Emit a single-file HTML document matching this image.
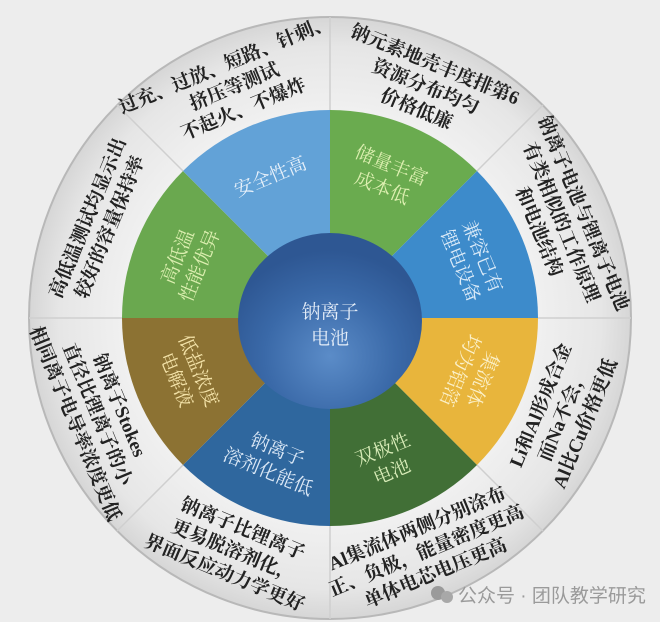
<!DOCTYPE html>
<html><head><meta charset="utf-8"><style>
html,body{margin:0;padding:0;background:#ededed;}
svg{display:block}
.o{font-family:"Liberation Serif","Noto Serif CJK SC",serif;font-size:19px;font-weight:bold;fill:#222;text-anchor:middle}
.i{font-family:"Liberation Serif","Noto Serif CJK SC",serif;font-size:19px;text-anchor:middle}
</style></head><body>
<svg width="660" height="622" viewBox="0 0 660 622" xmlns="http://www.w3.org/2000/svg">
<defs>
<radialGradient id="ring" cx="50%" cy="50%" r="50%">
<stop offset="0.65" stop-color="#f2f2f2"/><stop offset="0.9" stop-color="#e6e6e6"/><stop offset="1" stop-color="#d6d6d6"/>
</radialGradient>
<radialGradient id="ctr" cx="50%" cy="70%" r="60%">
<stop offset="0" stop-color="#5b8cc8"/><stop offset="0.6" stop-color="#3a69a8"/><stop offset="1" stop-color="#2e5793"/>
</radialGradient>
</defs>
<rect width="660" height="622" fill="#ededed"/>
<circle cx="330" cy="318" r="301" fill="url(#ring)" stroke="#b8b8b8" stroke-width="2"/>
<g stroke="#cfcfcf" stroke-width="1.5">
<line x1="330" y1="110" x2="330" y2="17"/><line x1="477" y1="171" x2="543" y2="105"/>
<line x1="538" y1="318" x2="631" y2="318"/><line x1="477" y1="465" x2="543" y2="531"/>
<line x1="330" y1="526" x2="330" y2="619"/><line x1="183" y1="465" x2="117" y2="531"/>
<line x1="122" y1="318" x2="29" y2="318"/><line x1="183" y1="171" x2="117" y2="105"/>
</g>
<path d="M330,318 L330,110 A208,208 0 0 1 477,171 Z" fill="#6aab4f"/>
<path d="M330,318 L477,171 A208,208 0 0 1 538,318 Z" fill="#3d8bcb"/>
<path d="M330,318 L538,318 A208,208 0 0 1 477,465 Z" fill="#e8b53c"/>
<path d="M330,318 L477,465 A208,208 0 0 1 330,526 Z" fill="#416f36"/>
<path d="M330,318 L330,526 A208,208 0 0 1 183,465 Z" fill="#2f679e"/>
<path d="M330,318 L183,465 A208,208 0 0 1 122,318 Z" fill="#8c7233"/>
<path d="M330,318 L122,318 A208,208 0 0 1 183,171 Z" fill="#6aa84f"/>
<path d="M330,318 L183,171 A208,208 0 0 1 330,110 Z" fill="#62a2d7"/>
<ellipse cx="330" cy="321" rx="92" ry="88" fill="url(#ctr)"/>
<text class="i" fill="#e4edf8" x="330" y="318" font-size="21">钠离子</text>
<text class="i" fill="#e4edf8" x="330" y="344" font-size="21">电池</text>

<g transform="translate(270,176) rotate(-22.5)"><text class="i" fill="#e6f0fa" y="7">安全性高</text></g>
<g transform="translate(387,176) rotate(22.5)"><text class="i" fill="#dcefb0" y="-5">储量丰富</text><text class="i" fill="#dcefb0" y="19">成本低</text></g>
<g transform="translate(472,261) rotate(67.5)"><text class="i" fill="#dcebf8" y="-5">兼容已有</text><text class="i" fill="#dcebf8" y="19">锂电设备</text></g>
<g transform="translate(472,375) rotate(112.5)"><text class="i" fill="#fbf0c8" y="-5">集流体</text><text class="i" fill="#fbf0c8" y="19">均为铝箔</text></g>
<g transform="translate(387,460) rotate(-22.5)"><text class="i" fill="#d8ecb8" y="-5">双极性</text><text class="i" fill="#d8ecb8" y="19">电池</text></g>
<g transform="translate(273,460) rotate(22.5)"><text class="i" fill="#dbe8f6" y="-5">钠离子</text><text class="i" fill="#dbe8f6" y="19">溶剂化能低</text></g>
<g transform="translate(188,375) rotate(67.5)"><text class="i" fill="#f3e2a8" y="-5">低盐浓度</text><text class="i" fill="#f3e2a8" y="19">电解液</text></g>
<g transform="translate(188,261) rotate(-67.5)"><text class="i" fill="#dcefb0" y="-5">高低温</text><text class="i" fill="#dcefb0" y="19">性能优异</text></g>

<g transform="translate(234,86) rotate(-22.5)"><text class="o" y="-17">过充、过放、短路、针刺、</text><text class="o" y="7">挤压等测试</text><text class="o" y="31">不起火、不爆炸</text></g>
<g transform="translate(426,86) rotate(22.5)"><text class="o" y="-17">钠元素地壳丰度排第6</text><text class="o" y="7">资源分布均匀</text><text class="o" y="31">价格低廉</text></g>
<g transform="translate(562,222) rotate(67.5)"><text class="o" y="-17">钠离子电池与锂离子电池</text><text class="o" y="7">有类相似的工作原理</text><text class="o" y="31">和电池结构</text></g>
<g transform="translate(562,414) rotate(-67.5)"><text class="o" y="-17">Li和Al形成合金</text><text class="o" y="7">而Na不会，</text><text class="o" y="31">Al比Cu价格更低</text></g>
<g transform="translate(426,550) rotate(-22.5)"><text class="o" y="-17">Al集流体两侧分别涂布</text><text class="o" y="7">正、负极，能量密度更高</text><text class="o" y="31">单体电芯电压更高</text></g>
<g transform="translate(234,550) rotate(22.5)"><text class="o" y="-17">钠离子比锂离子</text><text class="o" y="7">更易脱溶剂化，</text><text class="o" y="31">界面反应动力学更好</text></g>
<g transform="translate(98,414) rotate(67.5)"><text class="o" y="-17">钠离子Stokes</text><text class="o" y="7">直径比锂离子的小</text><text class="o" y="31">相同离子电导率浓度更低</text></g>
<g transform="translate(98,222) rotate(-67.5)"><text class="o" y="-5">高低温测试均显示出</text><text class="o" y="19">较好的容量保持率</text></g>

<circle cx="438" cy="593" r="7" fill="#9a9a9a"/><circle cx="447" cy="597" r="6" fill="#a8a8a8"/>
<text x="458" y="602" font-family="'Liberation Sans','Noto Sans CJK SC',sans-serif" font-size="19" fill="#9a9a9a">公众号 · 团队教学研究</text>
</svg>
</body></html>
